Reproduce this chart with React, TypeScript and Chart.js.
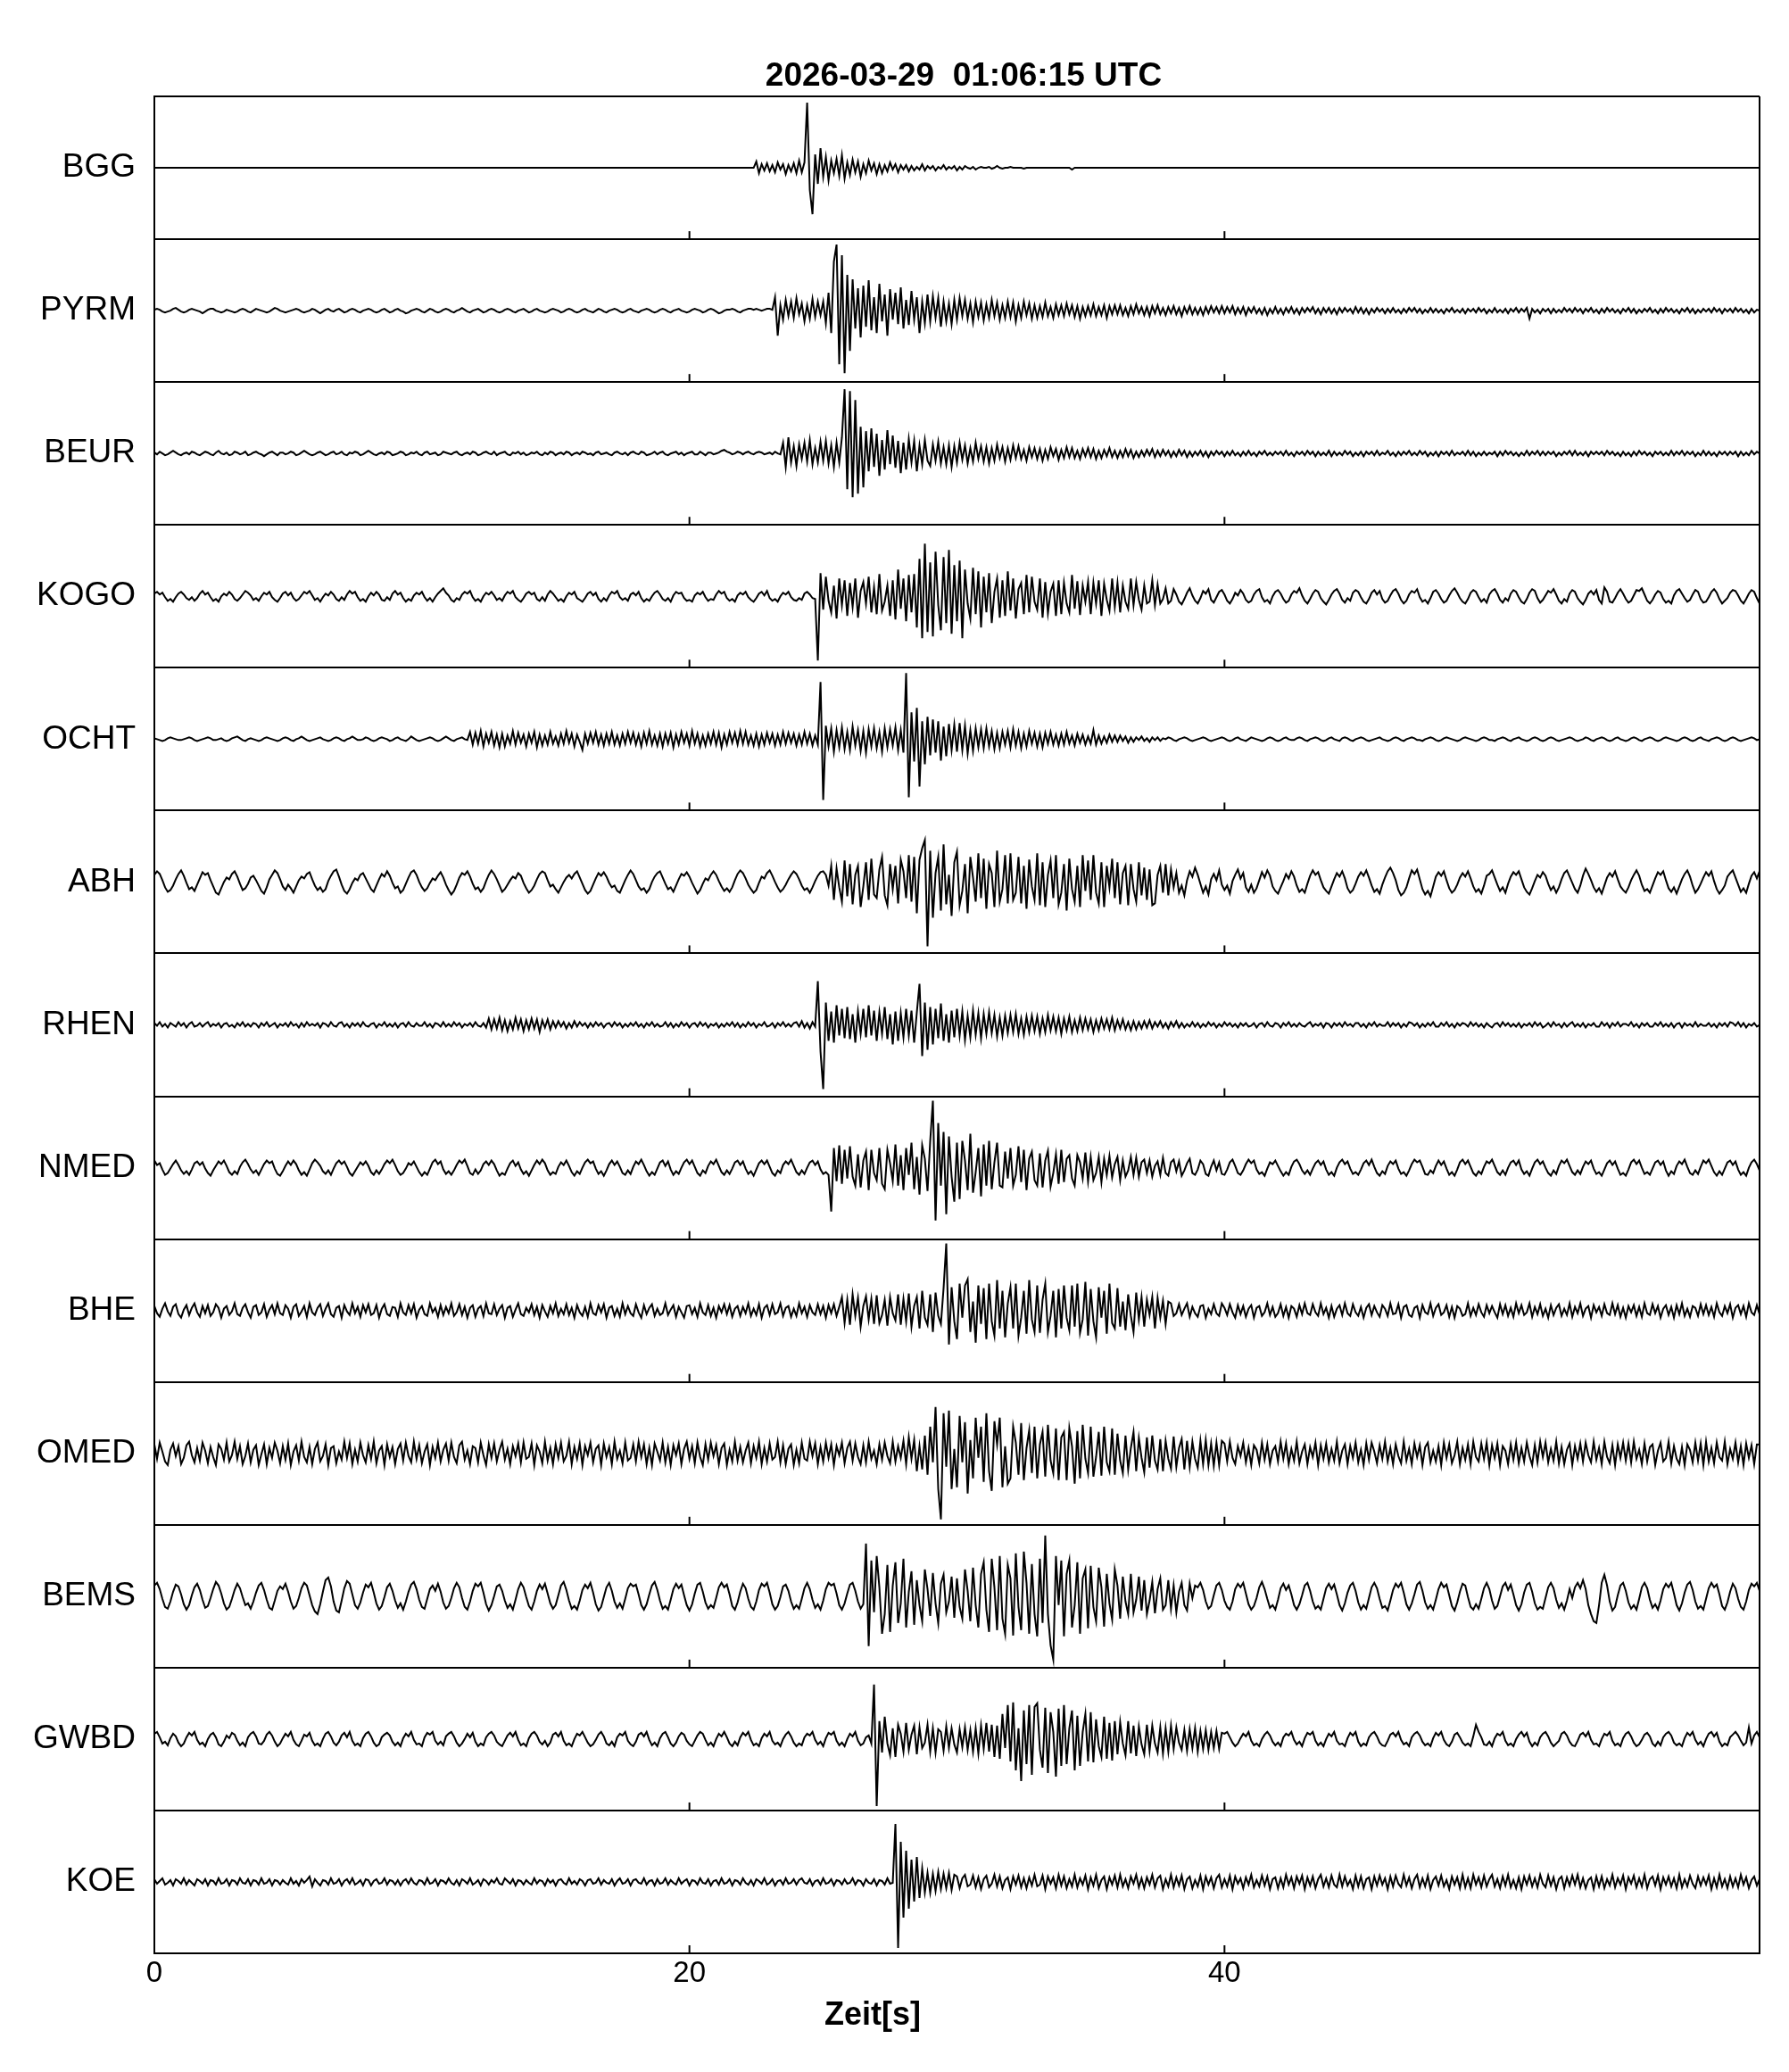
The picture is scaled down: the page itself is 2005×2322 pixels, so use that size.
import React, { useEffect, useRef } from 'react';
import { Chart, registerables } from 'chart.js';

Chart.register(...registerables);

const TITLE = '2026-03-29  01:06:15 UTC';
const X_LABEL = 'Zeit[s]';
const STATIONS = ['BGG', 'PYRM', 'BEUR', 'KOGO', 'OCHT', 'ABH', 'RHEN', 'NMED', 'BHE', 'OMED', 'BEMS', 'GWBD', 'KOE'];
const X_TICKS = [0, 20, 40, 60];
const DT = 0.1; // seconds between samples; each row below = 1 s; values = deflection (160 units = one panel)

const BGG = [
  0,0,0,0,0,0,0,0,0,0, 0,0,0,0,0,0,0,0,0,0, 0,0,0,0,0,0,0,0,0,0, 0,0,0,0,0,0,0,0,0,0,
  0,0,0,0,0,0,0,0,0,0, 0,0,0,0,0,0,0,0,0,0, 0,0,0,0,0,0,0,0,0,0, 0,0,0,0,0,0,0,0,0,0,
  0,0,0,0,0,0,0,0,0,0, 0,0,0,0,0,0,0,0,0,0, 0,0,0,0,0,0,0,0,0,0, 0,0,0,0,0,0,0,0,0,0,
  0,0,0,0,0,0,0,0,0,0, 0,0,0,0,0,0,0,0,0,0, 0,0,0,0,0,0,0,0,0,0, 0,0,0,0,0,0,0,0,0,0,
  0,0,0,0,0,0,0,0,0,0, 0,0,0,0,0,0,0,0,0,0, 0,0,0,0,0,0,0,0,0,0, 0,0,0,0,0,0,0,0,0,0,
  0,0,0,0,0,0,0,0,0,0, 0,0,0,0,0,0,0,0,0,0,
  0,0,0,0,0,7,-6,4,-3,5,
  -4,3,-5,6,-2,4,-7,3,-4,5,
  -6,8,-5,6,73,-25,-52,15,-18,22,
  -10,12,-14,8,-6,10,-9,14,-12,6,
  -8,9,-5,7,-10,4,-6,8,-3,5,
  -7,4,-6,3,-4,6,-2,4,-5,3,
  -2,3,-4,2,-3,1,-2,4,-3,2,
  -1,2,-3,1,-1,3,-2,1,-1,2,
  -3,1,-2,2,0,-1,1,-2,0,1,
  0,0,1,-1,0,2,0,-1,0,0,
  1,0,0,0,0,-1,0,0,0,0,
  0,0,0,0,0,0,0,0,0,0,
  0,0,0,-2,0,0,0,0,0,0,
  0,0,0,0,0,0,0,0,0,0, 0,0,0,0,0,0,0,0,0,0, 0,0,0,0,0,0,0,0,0,0, 0,0,0,0,0,0,0,0,0,0,
  0,0,0,0,0,0,0,0,0,0, 0,0,0,0,0,0,0,0,0,0, 0,0,0,0,0,0,0,0,0,0, 0,0,0,0,0,0,0,0,0,0,
  0,0,0,0,0,0,0,0,0,0, 0,0,0,0,0,0,0,0,0,0, 0,0,0,0,0,0,0,0,0,0, 0,0,0,0,0,0,0,0,0,0,
  0,0,0,0,0,0,0,0,0,0, 0,0,0,0,0,0,0,0,0,0, 0,0,0,0,0,0,0,0,0,0, 0,0,0,0,0,0,0,0,0,0,
  0,0,0,0,0,0,0,0,0,0, 0,0,0,0,0,0,0,0,0,0, 0,0,0,0,0,0,0,0,0,0, 0,0,0,0,0,0,0,0,0,0,
  0,0,0,0,0,0,0,0,0,0, 0,0,0,0,0,0,0,0,0,0, 0,0,0,0,0,0,0,0,0,0, 0,0,0,0,0,0,0,0,0,0,
  0,0,0,0,0,0,0,0,0,0,
  0,
];

const PYRM = [
  1,2,1,-1,-2,-1,0,2,3,1,
  -1,-2,-1,1,2,1,0,-1,-3,-1,
  1,2,2,0,-1,-2,-1,1,0,-1,
  -2,-1,1,2,1,-1,-2,0,2,1,
  0,-1,-2,-1,1,3,2,0,-1,-2,
  -1,0,1,2,1,-1,-2,-1,0,2,
  1,-1,-3,-1,1,2,0,-1,1,2,
  0,-2,-1,1,2,1,-1,-2,0,1,
  2,1,-1,-2,-1,1,2,0,-2,-1,
  1,2,0,-1,-3,-2,0,1,2,1,
  -1,-2,0,2,1,-1,-2,-1,1,2,
  1,-1,-2,0,1,3,1,-1,-2,0,
  1,2,0,-2,-1,1,2,1,-1,-2,
  -1,1,2,1,-1,-2,0,1,2,0,
  -2,-1,1,2,0,-1,-2,-1,1,2,
  1,0,-2,-1,1,2,1,-1,-2,-1,
  1,2,0,-1,-2,0,2,1,-1,-2,
  0,1,2,1,-1,-2,-1,1,2,0,
  -1,-2,0,1,2,1,-1,-2,-1,1,
  2,1,-1,-2,0,1,2,0,-1,-2,
  -1,1,2,1,0,-2,-1,1,2,1,
  -1,-3,-2,0,1,1,2,1,-1,-2,
  0,1,2,2,1,2,1,0,1,2,
  2,1,15,-28,6,-10,12,-6,10,-8,
  14,-4,8,-12,6,-9,13,-7,10,-5,
  10,-14,20,-25,55,74,-60,62,-70,40,
  -45,35,-20,25,-30,28,-18,34,-22,15,
  -25,30,-12,18,-28,24,-10,20,-15,26,
  -20,12,-16,22,-10,15,-25,10,-14,18,
  -12,16,-8,14,-18,10,-12,8,-15,12,
  -10,14,-6,12,-9,8,-13,10,-7,9,
  -11,7,-8,12,-6,9,-10,6,-8,10,
  -7,9,-12,6,-8,10,-5,8,-9,6,
  -8,5,-7,9,-6,4,-8,7,-5,6,
  -6,8,-4,6,-7,5,-9,4,-6,5,
  -5,7,-6,4,-5,6,-8,5,-4,6,
  -4,6,-5,3,-6,5,-4,7,-3,4,
  -5,4,-6,5,-3,6,-4,3,-5,4,
  -3,5,-4,3,-6,4,-3,5,-4,3,
  -4,3,-5,4,-3,5,-2,4,-3,5,
  -3,4,-2,5,-4,3,-3,4,-5,3,
  -2,4,-3,2,-4,3,-5,2,-3,4,
  -3,2,-4,3,-2,4,-3,2,-4,3,
  -2,3,-1,4,-3,2,-4,3,-2,3,
  -3,2,-4,3,-2,3,-1,2,-3,4,
  -2,3,-3,2,-4,2,-2,3,-1,2,
  -3,2,-2,3,-2,1,-3,2,-2,3,
  -1,3,-2,2,-3,1,-2,3,-2,2,
  -2,1,-3,2,-1,3,-2,1,-2,2,
  -3,2,-1,2,-2,3,-1,2,-3,1,
  -2,3,-2,1,-2,2,-3,2,-1,3,
  -2,2,-1,3,-9,2,-2,1,-3,2,
  -1,2,-3,2,-2,1,-2,3,-1,2,
  -2,3,-1,2,-3,2,-1,3,-2,1,
  -3,2,-2,3,-1,2,-2,1,-3,2,
  -1,3,-2,2,-3,1,-2,2,-1,3,
  -2,1,-3,2,-2,3,-1,2,-2,1,
  -3,2,-1,3,-2,2,-3,1,-2,2,
  -1,2,-2,3,-1,2,-3,2,-1,2,
  -2,3,-1,2,-2,1,-3,2,-2,1,
  0,
];

const BEUR = [
  1,-1,2,0,-2,-1,1,3,1,-1,
  -2,0,1,-1,2,1,-1,-2,0,2,
  1,-1,-2,1,3,0,-1,1,-2,-1,
  2,1,-1,0,2,-2,-1,1,2,0,
  -1,-3,-1,1,2,0,-2,1,1,-1,
  0,2,1,-2,-1,1,3,1,-1,-2,
  -1,1,2,0,-2,-1,1,2,-1,0,
  2,-1,-2,1,0,2,1,-2,-1,1,
  3,1,-1,-2,0,1,-1,2,1,-2,
  -1,0,2,1,-2,-1,1,0,2,-1,
  -2,1,2,-1,0,1,-2,-1,2,1,
  0,-1,1,2,-1,-2,0,1,-1,2,
  1,-2,-1,1,2,0,-1,2,-2,0,
  1,2,-1,-2,1,0,2,-1,1,-2,
  -1,1,0,2,-1,-2,1,-1,2,1,
  -2,0,1,-1,2,1,-2,0,1,-1,
  2,1,-1,0,-2,1,2,-1,0,1,
  -1,-2,1,2,0,-1,1,-2,1,2,
  0,-1,2,1,-2,-1,0,2,-1,1,
  2,-1,-2,0,1,2,-1,1,-2,0,
  1,2,-1,-1,2,0,-2,1,1,-1,
  0,1,3,4,2,1,-1,0,2,1,
  -1,1,2,0,-1,1,2,1,-1,0,
  1,-1,2,0,-1,12,-15,18,-10,8,
  -14,10,-6,12,-9,15,-12,6,-10,13,
  -8,14,-11,9,-15,12,-10,18,72,-40,
  70,-49,60,-45,30,-38,25,-20,28,-15,
  22,-25,15,-18,26,-12,20,-16,14,-22,
  12,-18,16,-10,14,-20,9,-12,15,-8,
  -14,10,-8,13,-11,7,-12,9,-15,8,
  -10,12,-7,9,-11,6,-9,12,-6,8,
  -9,7,-11,6,-8,10,-5,7,-9,6,
  -7,9,-5,8,-6,4,-8,7,-4,6,
  -6,5,-8,4,-6,7,-3,5,-7,4,
  -5,7,-4,6,-5,3,-6,5,-3,6,
  -4,5,-6,3,-5,4,-3,6,-4,3,
  -5,3,-4,5,-3,4,-5,2,-4,3,
  -3,4,-2,5,-4,3,-3,4,-2,3,
  -4,2,-3,4,-2,3,-4,2,-3,2,
  -2,3,-3,2,-4,2,-2,3,-1,2,
  -3,2,-2,3,-2,1,-3,2,-2,3,
  -2,1,-3,2,-1,3,-2,1,-2,2,
  -1,2,-2,3,-2,1,-3,2,-1,2,
  -2,3,-1,2,-3,2,-2,1,-2,3,
  -3,2,-2,1,-2,3,-1,2,-3,1,
  -2,2,-3,2,-1,2,-2,3,-2,1,
  -1,3,-2,1,-3,2,-2,2,-1,3,
  -2,1,-2,3,-1,2,-3,1,-2,2,
  -3,2,-1,2,-2,3,-2,1,-1,2,
  -2,3,-2,2,-3,1,-2,2,-2,1,
  -1,2,-3,2,-2,3,-1,2,-2,1,
  -3,1,-2,3,-2,2,-1,3,-2,2,
  -2,2,-1,2,-3,1,-2,2,-1,3,
  -2,3,-2,1,-2,2,-3,2,-1,2,
  -1,2,-2,3,-1,2,-2,1,-3,2,
  -2,1,-3,2,-2,3,-1,2,-2,1,
  -3,2,-1,2,-2,1,-2,3,-2,2,
  -1,3,-2,2,-1,2,-3,1,-2,3,
  -2,2,-2,1,-3,2,-1,2,-2,2,
  -1,2,-3,2,-2,1,-2,3,-1,2,
  0,
];

const KOGO = [
  3,5,2,4,-1,-5,-3,-6,-1,3,
  5,2,-2,-4,-1,-5,-2,3,6,2,
  4,-1,-5,-3,-6,0,3,1,5,2,
  -3,-5,-2,2,6,4,1,-4,-2,-5,
  0,4,2,5,-1,-4,-6,-2,3,5,
  1,4,-2,-5,-3,1,5,3,6,1,
  -4,-2,-6,-1,3,1,5,2,-3,-5,
  -1,-4,2,6,3,5,-1,-5,-3,-6,
  0,4,1,5,2,-4,-5,-1,-4,3,
  6,2,4,-2,-6,-3,-5,1,4,2,
  5,-1,-5,-2,-6,-1,3,6,9,4,
  1,-4,-6,-2,-4,2,5,3,6,-1,
  -5,-3,-6,0,4,2,5,1,-4,-2,
  -5,1,5,3,6,-1,-4,-6,-2,3,
  5,2,4,-3,-5,-1,-5,2,6,3,
  -1,-5,-3,-6,0,4,2,5,-2,-4,
  -6,-2,3,5,1,4,-3,-6,-2,-5,
  1,5,3,6,-1,-4,-2,-5,2,4,
  1,5,-2,-6,-3,-5,0,4,6,2,
  -3,-5,-2,-6,1,5,3,4,-2,-5,
  -4,-6,1,4,2,5,-1,-5,-3,-4,
  2,6,3,5,-2,-5,-3,-6,1,4,
  2,5,-1,-4,-6,-2,3,5,1,6,
  -2,-5,-3,-6,0,4,2,5,-1,-4,
  -5,-2,-4,3,5,2,-2,-3,-72,26,
  -15,22,-5,-18,12,-25,20,-10,18,-22,
  15,-12,20,-24,6,16,-8,22,-18,10,
  -20,25,-16,-6,12,-22,18,-26,30,-14,
  20,-28,24,-18,25,-35,42,-47,59,-40,
  38,-45,50,-10,-38,44,-30,52,-42,35,
  -28,40,-47,30,-8,-25,32,-20,28,-35,
  22,-18,26,-30,5,20,-24,18,-22,28,
  -16,20,-25,8,15,-20,24,-18,22,-6,
  -15,20,-24,16,-19,5,14,-22,18,-20,
  15,-8,-18,24,-14,17,-21,12,-6,16,
  -20,15,-8,18,-22,14,-4,-16,20,-12,
  15,-18,12,-6,-14,20,-10,16,-4,-15,
  12,-8,-6,18,-10,13,-8,-3,9,-8,
  -5,8,2,-6,-9,-3,4,9,1,-5,
  -8,-2,6,3,8,-4,-7,-1,5,7,
  2,-5,-8,-3,4,1,7,3,-4,-7,
  -5,2,6,8,-1,-6,-4,-8,0,5,
  7,3,-3,-7,-5,2,6,4,9,1,
  -5,-8,-3,3,7,5,-2,-6,-9,-4,
  2,6,8,3,-4,-7,-2,-5,4,7,
  5,-1,-6,-8,-3,4,7,2,6,-3,
  -7,-5,1,6,8,3,-4,-8,-5,2,
  6,4,8,-1,-6,-4,-8,-2,5,7,
  3,-3,-7,-5,1,6,9,4,-2,-6,
  -8,-3,4,7,5,-1,-6,-3,-7,2,
  6,8,3,-4,-7,-2,-5,3,7,5,
  -1,-6,-8,-3,4,8,6,-2,-7,-4,
  1,6,4,8,2,-5,-8,-3,-6,3,
  7,5,-2,-6,-9,-4,3,6,2,7,
  -4,-8,10,5,-6,-7,-2,4,8,3,
  -3,-7,-5,1,7,6,9,2,-5,-8,
  -4,2,6,4,-3,-7,-5,-8,1,6,
  8,3,-2,-6,-4,2,7,5,-3,-7,
  -6,-1,5,8,4,-3,-8,-5,-2,4,
  7,6,1,-5,-8,-3,3,7,5,-2,
  -8,
];

const OCHT = [
  1,0,-1,-2,-1,1,2,1,0,-1,
  -1,0,1,2,1,-1,-2,-1,0,1,
  2,1,-1,-1,0,1,-1,-2,-1,1,
  2,3,1,-1,-2,0,1,0,-1,-2,
  -1,1,2,1,0,-1,-2,-1,1,2,
  1,-1,-2,0,1,3,1,-1,-2,-1,
  0,1,2,0,-1,-2,-1,1,2,1,
  -1,-2,0,1,3,1,-1,-1,0,2,
  1,-1,-2,-1,1,2,1,0,-2,-1,
  1,2,0,-1,-2,0,3,1,-1,-2,
  -1,0,1,2,1,-1,-2,-1,1,3,
  1,-1,-2,0,1,2,0,-1,8,-6,
  7,-5,9,-8,6,-4,8,-7,5,-9,
  6,-8,4,-5,9,-6,7,-4,5,-8,
  6,-4,8,-9,5,-7,4,-6,8,-5,
  3,-7,6,-5,9,-4,6,-8,5,-3,
  -12,6,-5,7,-4,8,-6,5,-7,6,
  -5,8,-6,4,-7,6,-5,8,-4,7,
  -6,5,-8,7,-5,9,-6,4,-7,6,
  -8,6,-5,7,-9,5,-6,8,-4,6,
  -7,9,-5,6,-8,4,-7,6,-5,8,
  -6,7,-9,5,-6,8,-4,7,-6,9,
  -5,8,-6,4,-7,6,-8,5,-6,7,
  -4,6,-7,5,-6,8,-5,7,-4,6,
  -7,5,-6,8,-5,6,-7,4,-6,64,
  -68,15,-8,12,-14,10,-9,13,-11,8,
  -12,14,-7,10,-13,9,-15,11,-8,12,
  -10,8,-14,12,-9,11,-7,13,-12,10,
  -15,74,-65,30,-25,35,-53,20,-28,25,
  -18,22,-15,20,-24,14,-19,17,-12,16,
  -14,18,-12,15,-16,10,-13,12,-9,11,
  -10,12,-8,9,-11,7,-10,8,-6,9,
  -9,11,-7,8,-10,6,-8,9,-5,7,
  -8,6,-9,7,-5,8,-6,5,-7,6,
  -6,8,-5,4,-7,6,-4,5,-6,3,
  -5,10,-6,4,-5,3,-4,5,-3,4,
  -3,4,-2,3,-4,2,-3,2,-1,3,
  -2,1,-3,2,-1,2,-2,1,0,2,
  1,-1,-2,0,1,2,1,-1,-2,-1,
  0,1,2,1,-1,-2,-1,0,1,2,
  1,-1,-2,-1,1,2,0,-1,-2,0,
  2,1,0,-1,-2,-1,1,2,1,-1,
  -2,-1,1,2,0,-1,-1,1,2,1,
  -1,-2,0,1,2,1,-1,-2,-1,1,
  2,0,-1,-2,1,2,1,-1,-2,0,
  1,2,1,-1,-2,-1,0,1,2,0,
  -1,-2,-1,1,2,1,-1,-2,0,1,
  2,1,-1,-1,-2,0,1,2,1,-1,
  -2,-1,1,2,1,0,-1,-2,-1,1,
  2,1,0,-1,-2,-1,1,2,1,-1,
  -1,-2,0,1,2,1,-1,-2,0,1,
  2,0,-1,-2,-1,1,2,1,-1,-2,
  -1,1,2,1,-1,-2,-1,0,1,2,
  1,-1,-2,-1,0,2,1,-1,-2,0,
  1,2,1,-1,-2,-1,1,2,0,-1,
  -2,-1,1,2,1,-1,-2,0,1,2,
  1,-1,-2,-1,1,2,1,0,-1,-2,
  -1,1,2,1,-1,-2,-1,1,2,0,
  -1,-2,0,1,2,1,-1,-2,-1,1,
  2,1,-1,-2,-1,0,1,2,1,-1,
  0,
];

const ABH = [
  8,12,9,2,-6,-11,-9,-4,3,9,
  13,7,-1,-8,-6,-10,-3,4,11,8,
  10,2,-5,-12,-14,-7,0,5,3,9,
  12,6,-2,-9,-7,-2,5,7,2,-4,
  -10,-13,-6,3,8,13,10,3,-5,-9,
  -3,-7,-12,-5,2,6,4,9,11,3,
  -4,-9,-6,-11,-8,1,7,12,14,6,
  -3,-10,-13,-8,-1,4,2,8,10,4,
  -2,-8,-11,-4,3,9,6,12,7,-1,
  -7,-5,-12,-9,-2,5,11,13,8,0,
  -6,-10,-7,-1,4,2,7,11,5,-3,
  -9,-14,-10,-3,5,10,8,12,6,-2,
  -8,-6,-11,-7,1,8,13,9,3,-4,
  -11,-8,-3,2,6,4,10,7,-1,-7,
  -12,-9,-4,3,9,12,10,2,-5,-3,
  -8,-12,-6,0,5,8,4,9,12,5,
  -2,-9,-13,-10,-3,4,10,7,11,6,
  -1,-6,-4,-10,-12,-5,2,8,13,9,
  2,-5,-9,-7,-12,-8,0,6,10,12,
  5,-2,-8,-6,-11,-4,3,9,7,11,
  6,-1,-7,-13,-9,-2,4,2,8,12,
  8,1,-5,-10,-7,-11,-6,2,9,13,
  10,4,-3,-8,-12,-9,-1,6,4,10,
  13,7,0,-6,-11,-8,-3,3,8,12,
  9,3,-4,-9,-7,-12,-6,1,7,11,
  12,8,-4,18,-20,15,-6,-22,24,-16,
  20,-25,8,18,-28,-5,22,-20,26,-14,
  -18,14,28,-15,-26,20,-8,18,-24,25,
  12,-18,30,-22,28,-35,25,38,47,-72,
  35,-40,10,28,-32,42,-25,8,-38,22,
  34,-26,-10,20,-35,28,5,-22,32,-18,
  26,-30,20,10,-28,35,-22,-8,30,-24,
  32,-20,-12,28,-24,18,-30,25,-5,-20,
  32,-26,22,-28,8,24,-18,30,-25,-12,
  20,-32,26,-8,-22,18,-28,30,-10,24,
  -20,30,-12,-24,22,-28,18,-6,26,-18,
  22,-25,10,18,-26,20,-8,-22,22,-15,
  16,-20,14,-26,-24,8,18,-12,20,-15,
  14,-6,10,-12,-4,-15,2,12,6,16,
  8,-2,-12,-5,-14,3,9,2,13,-3,
  -9,-4,-13,1,8,14,4,10,-6,-11,
  -3,-12,-7,2,11,5,13,7,-5,-10,
  -13,-6,1,9,4,12,6,-4,-11,-8,
  -12,-2,7,13,8,11,2,-6,-10,-13,
  -5,3,10,6,12,4,-7,-12,-9,-2,
  6,11,7,13,5,-4,-11,-8,-13,-3,
  5,12,16,10,2,-9,-15,-12,-6,4,
  13,9,14,3,-8,-14,-10,-16,-5,6,
  11,7,12,2,-7,-12,-9,-3,5,10,
  6,12,4,-5,-11,-8,-13,-4,7,9,
  13,5,-3,-10,-6,-12,-2,6,11,8,
  12,3,-6,-11,-14,-7,1,8,5,11,
  7,-2,-9,-5,-12,-6,3,10,13,6,
  -1,-8,-12,-4,7,15,9,2,-6,-11,
  -7,-13,-4,5,10,6,12,3,-5,-9,
  -12,-6,2,8,13,7,-3,-10,-8,-12,
  -4,4,11,8,12,2,-7,-11,-6,-13,
  -5,3,9,13,6,-4,-12,-8,-2,5,
  11,7,12,1,-8,-13,-9,-4,6,10,
  13,5,-3,-11,-7,-12,-2,7,11,4,
  12,
];

const RHEN = [
  2,-1,3,-2,1,-3,2,0,-2,3,
  -1,2,-3,1,3,-2,-1,2,-2,1,
  3,-2,1,-1,2,-3,1,2,-2,0,
  -3,2,-1,3,-2,1,-2,2,1,-3,
  2,-1,3,-2,0,2,-3,1,-1,2,
  -2,3,-1,1,-3,2,-2,3,-1,1,
  -1,2,-3,2,1,-2,3,-1,-2,2,
  3,-2,1,-3,2,-1,2,-2,3,-1,
  -2,1,2,-3,1,-1,3,-2,1,-2,
  2,-3,1,2,-2,3,-1,-2,2,-1,
  -1,3,-2,1,-3,2,1,-2,3,-2,
  1,-2,3,-1,2,-3,1,-1,2,-2,
  3,-1,-2,2,-3,7,-5,6,-4,8,
  -6,5,-7,4,-5,8,-4,6,-7,5,
  -5,7,-4,6,-8,5,-3,6,-5,4,
  -3,4,-2,3,-4,2,-3,4,-2,3,
  -1,2,-3,2,-2,3,-1,2,-3,1,
  2,-2,3,-1,2,-3,1,-2,2,-1,
  3,-2,1,-3,2,-1,3,-2,1,-2,
  -1,3,-2,2,-3,1,-2,3,-1,2,
  -3,1,2,-2,3,-1,2,-3,1,-1,
  2,-3,1,-2,2,-1,3,-2,2,-3,
  1,-2,3,-1,2,-3,1,-1,3,-2,
  -1,2,-3,2,-1,3,-2,1,-2,2,
  3,-2,4,-3,2,-4,3,-2,49,-30,
  -72,25,-18,15,-20,22,-12,18,-15,20,
  -16,12,-20,15,-10,18,-14,22,-12,16,
  -18,14,-10,20,-16,12,-22,15,-18,13,
  -14,18,-12,16,-20,14,46,-35,25,-28,
  20,-22,18,-15,24,-18,12,-20,16,-14,
  18,-12,15,-17,10,-14,16,-11,13,-15,
  12,-10,14,-9,11,-13,8,-12,10,-9,
  11,-8,12,-10,7,-11,9,-8,10,-7,
  9,-10,7,-8,11,-6,9,-7,8,-10,
  7,-6,9,-8,5,-7,8,-6,7,-5,
  6,-8,5,-6,7,-4,6,-5,8,-6,
  5,-4,6,-5,3,-6,4,-5,3,-4,
  4,-3,5,-4,3,-2,4,-3,2,-4,
  3,-2,4,-3,2,-3,1,-2,3,-2,
  2,-3,1,-2,3,-1,2,-3,1,-2,
  3,-1,2,-2,1,-3,2,-1,2,-2,
  -1,2,-3,1,2,-2,3,-1,-2,2,
  1,-3,2,-1,3,-2,1,-2,2,-1,
  -2,1,3,-2,1,-1,2,-3,2,1,
  -3,2,-1,2,-2,3,-1,1,-2,2,
  2,-2,1,-3,2,-1,3,-2,1,-1,
  -1,3,-2,2,-1,2,-3,1,-2,3,
  2,-1,2,-3,1,-2,2,-1,3,-2,
  -2,2,-1,3,-2,1,-3,2,-1,2,
  1,-2,3,-1,2,-2,1,-3,2,-1,
  -3,1,2,-2,3,-1,2,-2,1,-2,
  2,-3,1,-1,2,-2,3,-1,2,-3,
  -1,2,-2,3,-1,1,-3,2,-2,1,
  3,-2,1,-2,2,-3,1,-1,2,-2,
  -2,3,-1,2,-3,2,-1,3,-2,1,
  1,-1,3,-2,1,-3,2,-1,2,-2,
  -2,2,-1,3,-2,1,-2,2,-3,1,
  2,-3,2,-1,1,-2,3,-2,1,-1,
  -1,2,-2,1,-3,2,-1,2,-2,3,
  2,-1,3,-2,2,-3,1,-1,2,-2,
  0,
];

const NMED = [
  8,3,5,-2,-8,-6,-1,4,8,3,
  -3,-7,-4,-8,-2,5,7,3,6,-1,
  -6,-9,-3,2,7,4,8,2,-5,-8,
  -4,-7,1,6,9,4,-2,-6,-3,-8,
  -2,4,8,5,7,-1,-7,-9,-4,2,
  7,3,8,4,-3,-8,-5,-9,-2,5,
  9,6,2,-4,-7,-3,-8,-1,5,8,
  4,7,1,-6,-9,-4,1,6,3,7,
  2,-5,-8,-3,-7,-2,4,8,5,9,
  3,-4,-8,-6,-1,5,3,7,1,-5,
  -9,-5,-8,-1,6,9,4,7,-2,-7,
  -4,-8,-3,3,8,5,9,2,-6,-8,
  -2,-7,-3,4,7,3,8,4,-3,-9,
  -6,-8,-1,5,8,2,6,-2,-7,-4,
  -9,-3,3,8,4,9,5,-3,-8,-5,
  -7,1,6,3,8,2,-5,-9,-4,-7,
  0,6,9,5,7,-1,-7,-4,-9,-3,
  4,8,3,7,1,-6,-8,-3,-7,1,
  7,4,9,3,-4,-9,-5,-8,-1,6,
  8,2,7,-2,-8,-4,-7,0,6,9,
  4,8,1,-6,-9,-3,-6,2,7,4,
  9,2,-5,-8,-3,-7,-1,6,8,3,
  7,-1,-7,-4,-9,-2,5,8,4,8,
  1,-6,-9,-3,-6,3,7,4,9,2,
  -5,-8,-3,-7,0,6,8,3,7,-2,
  -7,-5,-8,-49,22,-15,25,-18,20,-12,
  24,-10,-20,15,-22,8,18,-25,20,-6,
  -14,22,-18,-24,20,5,-15,26,-20,14,
  -25,22,-8,28,-24,12,-30,25,10,-26,
  30,75,-59,50,-20,40,-52,35,-10,-38,
  28,-35,30,8,-25,38,-28,-5,22,-32,
  26,-20,30,-24,6,28,-20,-22,18,-12,
  22,-20,-8,24,-16,20,-25,10,18,-14,
  -20,16,-22,8,19,-21,-6,15,-18,20,
  -16,10,14,-12,-20,14,6,-12,17,-15,
  12,-14,-6,12,-16,10,-8,13,-11,4,
  12,-14,8,-10,-3,12,-8,11,-10,6,
  9,-6,8,-10,2,7,-8,11,-6,-9,
  6,9,-4,7,-9,-3,5,10,-6,-8,
  -2,8,4,-7,-9,1,8,-3,6,-7,
  -8,-2,6,9,2,-6,-8,-3,4,9,
  5,8,-2,-7,-5,-9,-1,6,4,8,
  2,-4,-9,-5,-8,1,7,9,4,-3,
  -7,-3,-8,-1,5,8,3,7,-2,-8,
  -5,-9,0,6,9,4,7,-1,-7,-5,
  -8,-2,5,8,3,9,1,-6,-9,-4,
  -7,2,7,4,8,-1,-7,-5,-9,-3,
  4,9,6,8,1,-7,-8,-3,-6,2,
  8,3,7,-1,-8,-5,-9,-2,6,9,
  4,8,1,-6,-9,-4,-7,1,7,5,
  9,2,-5,-8,-3,-8,0,6,8,3,
  8,-2,-7,-4,-9,-1,6,9,4,7,
  0,-6,-9,-3,-7,2,8,5,9,2,
  -5,-8,-3,-7,1,7,4,8,-1,-7,
  -5,-9,-2,5,8,3,7,-1,-8,-6,
  -9,-2,6,9,4,8,0,-7,-5,-8,
  -1,6,8,3,7,-3,-9,-4,-7,2,
  7,4,9,1,-6,-8,-3,-7,1,8,
  5,9,2,-5,-9,-4,-8,-1,6,8,
  3,7,-2,-8,-5,-9,0,6,9,4,
  -3,
];

const BHE = [
  5,-3,-7,2,8,-1,-6,4,7,-4,
  -8,1,6,-5,3,8,-2,-7,5,-3,
  6,-6,-2,7,3,-8,2,5,-5,-1,
  8,-4,-6,3,7,-2,-8,4,6,-5,
  -2,7,-7,1,6,-4,8,-3,-5,6,
  2,-8,4,7,-6,-1,5,-7,8,-2,
  -5,3,7,-6,2,8,-4,-7,3,5,
  -8,6,-1,-5,8,-3,4,-7,6,-2,
  7,-5,-3,6,-8,2,7,-4,-6,4,
  3,-7,8,-2,-5,6,-3,7,-8,1,
  5,-4,-6,8,-2,3,-7,6,-5,4,
  -3,8,-6,-2,7,-5,4,-8,3,6,
  -7,2,5,-6,8,-3,-4,7,-5,2,
  6,-8,3,5,-7,1,8,-4,-6,3,
  -2,7,-5,4,-8,6,-1,-7,5,-3,
  8,-6,2,-4,7,-5,3,-8,6,-2,
  -6,4,-7,8,-3,-5,6,-2,7,-8,
  3,5,-6,2,-7,8,-4,5,-3,-6,
  7,-2,-8,6,-4,3,7,-6,2,-5,
  -3,8,-5,1,6,-7,4,-2,-8,5,
  6,-4,3,-7,8,-2,-5,6,-6,3,
  -8,5,-2,7,-4,6,-7,2,5,-6,
  4,-3,8,-6,2,-5,7,-8,3,6,
  -5,7,-4,-2,8,-6,3,5,-7,2,
  -6,8,-3,4,-7,6,-2,-5,7,-4,
  5,-8,6,-3,7,-6,4,15,-14,12,
  -16,18,-6,14,-18,5,16,-10,13,-15,
  17,-14,-5,12,-17,15,-3,-11,18,-16,
  13,-12,19,-18,5,15,-20,22,-8,-16,
  18,-24,20,-6,-15,25,75,-38,26,-12,
  -32,30,-8,28,35,-24,10,-36,28,-15,
  25,-32,30,-12,-28,34,-20,22,-30,8,
  26,-20,30,-28,-8,22,-26,34,-10,-24,
  28,-25,12,30,-24,-6,22,-30,24,-20,
  28,-8,-22,28,-18,30,-25,-10,32,-28,
  24,-12,-30,26,-8,22,-26,30,-14,-20,
  25,-18,10,-22,18,-6,-24,20,-10,15,
  -18,12,-5,15,-20,14,-8,11,-15,10,
  8,-6,-3,7,-5,2,8,-7,4,-3,
  -7,5,6,-8,2,-4,7,-3,-6,8,
  3,-5,7,-2,-8,6,-4,5,-7,2,
  6,-8,3,5,-6,-2,8,-5,4,-7,
  -3,7,-6,4,-8,5,2,-7,6,-4,
  8,-3,-5,7,-2,-6,8,-4,3,-8,
  5,-7,2,6,-5,8,-3,-6,7,-2,
  -6,4,-8,3,7,-5,5,-2,-7,6,
  2,-6,8,-4,-3,7,-8,4,6,-5,
  -7,3,5,-8,6,-2,-4,8,-6,3,
  7,-5,-2,6,-7,4,-8,5,2,-6,
  -4,8,-6,3,-5,7,-2,-7,6,-3,
  5,-2,-8,7,-4,6,-6,3,-7,8,
  -3,6,-5,-2,8,-7,4,-4,7,-6,
  2,-8,6,-5,3,7,-6,2,-5,8,
  -7,4,-3,8,-6,2,5,-8,6,-2,
  4,-6,7,-3,-5,8,-4,6,-7,3,
  -8,5,-2,6,-6,4,-7,8,-3,-5,
  7,-3,5,-8,2,6,-5,4,-8,6,
  -4,8,-6,2,-7,5,3,-6,7,-4,
  6,-5,4,-7,8,-2,-6,5,-3,7,
  -8,3,6,-4,5,-7,8,-2,-5,6,
  -4,
];

const OMED = [
  10,-6,12,2,-9,-13,4,11,-3,8,
  -12,-5,9,13,-2,-10,6,-8,12,3,
  -11,7,-4,-13,10,5,-7,12,-9,-2,
  13,-6,8,-12,-3,11,-10,4,9,-13,
  -1,10,-12,6,-5,12,3,-11,8,-7,
  11,-13,2,9,-8,13,-4,-10,7,-12,
  5,12,-9,-3,10,-13,6,8,-11,2,
  -7,13,-5,11,-12,4,-9,12,-2,-10,
  9,-6,13,-11,3,8,-13,10,-4,7,
  -12,5,11,-8,12,-3,-10,13,-6,9,
  -11,2,10,-13,7,-5,12,-9,4,11,
  -8,12,-4,-11,9,13,-7,3,-12,8,
  6,-10,12,-2,-13,10,-5,11,-9,4,
  13,-7,5,-12,8,-3,11,-10,12,-6,
  -4,11,-13,9,2,-11,13,-8,6,-12,
  10,-5,12,-9,-3,13,-12,7,-6,11,
  -13,8,-2,12,-10,5,9,-13,11,-4,
  7,-12,13,-6,3,-11,12,-8,-5,10,
  -9,13,-4,10,-12,6,-13,11,2,-8,
  12,-10,7,-13,9,-2,11,-12,5,13,
  -6,8,-11,12,-4,-13,10,-7,12,-3,
  9,-12,6,11,-13,4,-9,13,-8,7,
  -10,3,12,-11,8,-5,13,-12,6,-9,
  11,-7,-4,13,-10,9,-12,5,10,-13,
  4,-11,12,-6,-8,13,-3,11,-12,7,
  -9,12,-5,10,-13,8,-2,12,-11,6,
  13,-8,11,-4,-12,9,-10,13,-6,3,
  -12,10,-7,12,-3,-11,13,-9,8,-5,
  14,-12,18,-6,15,-20,8,-18,20,-24,
  30,-10,52,-40,-74,45,-15,48,-40,5,
  -38,42,-10,35,-45,15,-28,40,-5,30,
  -32,45,-20,-42,36,10,40,-38,8,-34,
  -28,30,12,-24,34,-30,6,26,-22,30,
  -28,10,24,-26,32,-8,-22,28,-30,18,
  24,-30,28,8,-34,25,-28,32,-6,-22,
  30,-26,-4,24,-25,30,-10,-20,28,-24,
  22,-8,-22,20,-18,6,24,-20,17,-5,
  -21,18,-16,20,-8,-18,16,-20,14,-6,
  -17,19,-15,6,16,-18,14,-15,13,-6,
  -16,14,-12,15,-13,11,-14,12,-13,14,
  11,-9,13,-5,-12,8,-3,12,-10,6,
  -13,9,4,-11,12,-7,10,-12,3,8,
  -9,13,-6,11,-12,5,-8,13,-11,2,
  10,-12,7,-4,12,-13,9,-6,11,-10,
  5,-8,13,-11,3,10,-12,8,-5,12,
  -10,4,-13,11,-7,12,2,-11,9,-6,
  13,-9,6,-12,10,-3,-11,13,-8,5,
  -12,11,-4,9,-13,7,12,-10,3,-9,
  8,-13,12,-5,10,-11,-2,13,-12,6,
  -7,10,-12,13,-4,-9,11,-6,12,-13,
  9,-5,11,-13,8,3,-12,10,-7,12,
  -11,6,-9,12,-3,-13,9,-10,13,-4,
  12,-10,5,-8,13,-11,7,-12,4,11,
  -13,8,-6,11,-9,12,-2,-10,13,-7,
  6,-12,13,-4,-11,9,-13,10,-5,12,
  -8,11,-10,13,-6,4,-12,11,-9,7,
  10,-13,3,12,-9,-5,13,-11,8,-6,
  -12,7,-13,10,4,-10,12,-8,11,-13,
  13,-9,6,-11,12,-4,-8,13,-12,5,
  -6,12,-10,8,-13,11,-5,9,-12,10,
  10,
];

const BEMS = [
  12,15,8,-3,-12,-14,-6,5,13,11,
  2,-9,-15,-10,1,10,14,7,-4,-13,
  -11,-2,8,16,12,3,-8,-15,-12,-3,
  7,14,9,-1,-10,-8,-14,-6,4,12,
  15,7,-4,-13,-15,-5,6,11,8,14,
  5,-6,-14,-11,-2,9,15,12,1,-10,
  -17,-20,-9,5,18,21,11,-6,-16,-18,
  -5,9,17,14,2,-10,-14,-7,4,13,
  10,15,4,-8,-15,-11,-1,10,14,6,
  -5,-13,-8,-15,-6,5,13,16,8,-4,
  -12,-14,-3,8,12,6,14,5,-7,-14,
  -11,-2,9,15,10,-2,-12,-15,-6,6,
  14,11,15,4,-9,-16,-10,0,11,13,
  6,-5,-13,-9,-15,-4,8,15,10,-1,
  -11,-15,-6,6,13,8,14,3,-8,-14,
  -10,1,12,16,7,-5,-14,-11,-15,-5,
  7,13,9,15,4,-9,-16,-12,-1,10,
  15,6,-6,-13,-8,-14,-3,9,14,11,
  13,2,-10,-15,-9,2,12,16,7,-5,
  -14,-11,-15,-4,8,14,9,13,1,-10,
  -16,-9,3,13,15,5,-7,-14,-10,-13,
  -2,10,15,10,13,2,-11,-15,-7,5,
  14,9,-3,-12,-15,-6,7,14,11,15,
  4,-9,-15,-11,-1,11,13,6,-6,-14,
  -10,-14,-3,9,15,8,-4,-13,-9,-15,
  -5,8,15,12,14,3,-10,-15,-8,3,
  13,15,6,-6,-14,-9,59,-56,40,-18,
  45,10,-42,-20,35,-40,12,38,-30,-8,
  42,-35,5,28,-32,18,-10,-28,30,8,
  -22,26,-8,-30,14,24,-18,-6,22,-24,
  20,-12,-25,30,6,-28,32,-10,-35,25,
  38,-15,-40,42,10,-38,45,-25,-42,35,
  20,-44,48,-12,-38,50,15,-42,36,-20,
  -45,42,-30,68,-20,-55,-71,45,-10,40,
  -45,25,40,-35,-10,38,-42,20,30,-36,
  34,-12,-28,32,10,-34,25,-8,-26,30,
  12,-25,22,-6,-20,25,-18,-4,22,-16,
  18,-20,-5,16,-19,8,20,-15,-10,18,
  -14,12,-18,5,15,-10,-16,14,-2,12,
  10,15,7,-6,-14,-11,1,12,15,7,
  -5,-12,-15,-6,8,14,10,15,3,-9,
  -15,-11,-2,10,16,8,-3,-13,-10,-15,
  -4,9,14,7,12,2,-10,-15,-9,1,
  12,15,6,-6,-14,-11,-15,-3,9,14,
  8,13,2,-10,-16,-8,4,12,15,6,
  -7,-15,-10,-14,-2,10,15,9,-3,-13,
  -11,-16,-5,7,14,10,15,4,-9,-15,
  -8,2,13,16,6,-7,-14,-10,-15,-4,
  8,15,10,13,1,-11,-16,-7,5,14,
  12,-1,-12,-15,-9,-14,-3,9,15,8,
  -5,-14,-11,0,11,15,7,13,2,-10,
  -16,-9,4,13,15,5,-8,-15,-12,-14,
  -2,10,15,9,-4,-13,-8,-15,-5,8,
  -2,10,15,9,18,8,-10,-20,-28,-30,
  -10,15,24,12,-6,-16,-12,1,12,15,
  6,-7,-14,-10,-15,-3,10,15,9,-4,
  -13,-9,-15,-5,8,14,10,15,3,-10,
  -16,-8,4,13,16,7,-6,-14,-11,-15,
  -3,9,15,10,13,2,-11,-15,-7,5,
  14,9,-3,-12,-15,-6,7,14,11,15,
  6,
];

const GWBD = [
  6,8,2,-5,-3,-7,1,6,3,-4,
  -8,-5,2,7,4,8,-1,-6,-4,-8,
  0,5,7,2,-6,-8,-3,4,1,7,
  5,-2,-7,-4,-8,2,6,8,3,-5,
  -6,-2,5,8,4,-3,-8,-5,1,6,
  3,8,-1,-6,-8,-2,5,3,7,-2,
  -7,-5,-8,0,6,8,3,-4,-7,-3,
  4,7,2,8,-2,-7,-5,-8,1,6,
  8,3,-4,-8,-6,2,5,7,4,-3,
  -7,-4,-8,1,6,3,8,-1,-6,-5,
  -8,2,7,5,8,-2,-6,-3,-7,3,
  6,8,3,-4,-8,-5,0,6,2,7,
  -3,-8,-5,-7,2,6,8,4,-3,-6,
  -8,-2,4,7,3,8,-1,-7,-5,-8,
  1,6,8,4,-3,-6,-2,-8,-4,5,
  7,3,8,-2,-7,-5,-8,0,6,4,
  8,2,-4,-8,-6,-1,5,8,3,-5,
  -7,-3,-8,2,6,4,8,-2,-6,-8,
  -3,5,7,3,8,-1,-7,-4,-8,1,
  6,8,2,-5,-8,-4,3,7,5,-2,
  -6,-8,-2,4,8,6,-1,-7,-4,-8,
  0,6,3,8,2,-5,-8,-3,-7,2,
  7,4,8,-1,-7,-5,-8,1,6,3,
  8,-2,-6,-4,-8,0,5,8,3,-4,
  -8,-5,-7,2,6,4,8,-1,-6,-3,
  -8,1,7,5,8,-2,-7,-4,-8,0,
  6,3,8,-2,-7,-5,2,4,-5,61,
  -75,20,-15,25,-5,-18,12,-20,16,6,
  -14,18,-12,5,15,-17,13,-10,-4,16,
  -14,12,-15,11,8,-13,14,-10,12,-6,
  -15,11,-9,13,-12,10,-14,12,-16,15,
  -11,18,-14,16,-20,15,-22,28,-10,38,
  -25,41,-35,12,-47,32,-28,38,-40,36,
  40,-12,-32,35,-38,30,8,-42,34,-30,
  38,-28,12,32,-35,26,-30,8,28,-25,
  30,-26,22,-8,-20,25,-22,18,-24,20,
  -17,19,-5,-18,20,-16,15,-19,14,-6,
  -17,16,-13,15,-5,-15,13,-16,12,-14,
  15,-11,13,-4,-12,10,-13,11,-10,12,
  -14,9,-11,10,-12,8,-10,9,-11,7,
  6,8,2,-4,-8,-5,1,6,3,8,
  -2,-7,-5,-8,0,5,8,4,-3,-7,
  -4,-8,2,6,4,8,-1,-6,-3,-8,
  1,7,5,8,-2,-7,-4,-8,0,6,
  3,8,-2,-6,-5,-8,1,7,4,8,
  -3,-8,-5,-7,2,6,8,3,-4,-7,
  -8,-2,5,7,3,8,-1,-6,-4,-8,
  2,6,8,4,-3,-7,-5,-8,1,7,
  4,8,-1,-6,-8,-3,5,7,2,-4,
  -7,-5,-8,3,16,8,2,-6,-7,-3,
  -8,1,6,4,8,-2,-7,-5,-8,0,
  5,8,3,7,-3,-8,-4,-7,2,6,
  8,3,-4,-8,-5,-2,6,8,4,-3,
  -7,-8,-2,5,7,3,8,-1,-6,-5,
  -8,0,6,4,8,-2,-7,-5,-8,1,
  6,8,3,-4,-8,-6,-1,5,7,3,
  -5,-8,-3,-7,2,6,8,4,-4,-7,
  -5,-8,1,7,4,8,-1,-6,-3,-8,
  0,6,8,3,7,-3,-8,-5,-7,2,
  5,8,4,-2,-7,-4,13,-5,4,8,
  2,
];

const KOE = [
  3,-2,1,4,-3,-1,2,-4,3,1,
  -2,4,-3,2,-1,-4,3,1,-2,3,
  -4,2,1,-3,4,-2,-1,3,-4,2,
  1,-3,4,-1,-2,3,-4,2,1,-3,
  4,-2,-1,3,-4,2,1,-3,2,-1,
  -3,4,-2,1,-4,3,-1,2,6,-5,
  3,-1,-4,2,1,-3,4,-2,-1,3,
  -4,1,3,-2,4,-3,-1,2,-4,3,
  2,-4,1,3,-2,-1,4,-3,2,1,
  -3,2,-4,1,3,-2,4,-1,-3,2,
  1,-3,4,-2,-1,3,-4,2,1,-2,
  4,-1,-3,2,-4,3,1,-2,4,-3,
  -1,2,-4,3,1,-3,2,-1,4,-2,
  -3,4,1,-2,3,-4,2,1,-3,2,
  -1,-3,4,-2,2,1,-4,3,-1,2,
  -4,2,3,-1,-3,4,-2,1,-3,3,
  1,-4,2,3,-2,-1,4,-3,2,-1,
  -2,3,-4,1,4,-2,-1,3,-4,2,
  3,-1,-2,4,-3,1,2,-4,3,-2,
  -1,4,-3,2,-1,-3,4,-2,1,3,
  -4,2,1,-3,4,-1,-2,3,-4,1,
  2,-3,4,-2,-1,3,-4,2,1,-3,
  4,-1,-3,2,-4,3,1,-2,4,-3,
  -1,3,-4,1,2,-3,4,-2,-1,3,
  -3,2,4,-1,-2,3,-4,1,2,-3,
  4,-2,-1,3,-4,2,1,-3,3,-2,
  -1,4,-3,2,1,-4,3,-1,-2,3,
  -4,2,1,-3,4,-2,-1,65,-74,45,
  -40,35,-30,25,-22,28,-18,15,-12,10,
  -12,9,-10,11,-8,9,-7,10,-9,8,
  6,-7,4,8,-5,-3,7,-6,5,-8,
  3,7,-6,-2,8,-5,6,-7,2,5,
  -8,6,-3,7,-6,4,-7,5,-4,8,
  -5,-3,7,-8,6,-2,5,-7,8,-4,
  6,-7,3,-5,8,-6,4,-3,7,-8,
  5,-4,8,-7,2,6,-8,5,-3,7,
  -6,8,-5,3,-7,6,-2,8,-6,4,
  -7,5,-3,8,-6,4,7,-8,3,-5,
  8,-6,5,-4,7,-8,3,6,-7,2,
  -5,7,-8,6,-3,5,-7,4,8,-6,
  3,-5,7,-8,6,-2,4,-7,5,-3,
  8,-6,2,-5,7,-4,6,-8,3,5,
  -7,4,-6,8,-3,5,-7,6,-2,7,
  -8,5,-4,6,-7,3,8,-5,4,-6,
  7,-3,-6,8,-5,6,-4,2,-8,7,
  -5,6,-7,3,5,-8,6,-4,7,-3,
  4,-8,6,-5,7,-2,-6,8,-4,5,
  -7,3,8,-6,4,-5,7,-8,2,6,
  -4,7,-5,2,-8,6,-3,5,-7,8,
  -6,4,-7,8,-3,5,-6,7,-5,3,
  8,-5,3,-7,6,-4,8,-6,2,-7,
  5,-8,6,-3,7,-5,4,-6,8,-2,
  -6,7,-4,5,-8,3,6,-7,5,-4,
  7,-3,8,-6,4,-7,2,5,-8,6,
  -5,6,-7,3,-4,8,-6,4,-3,7,
  -8,5,-2,7,-6,4,-5,8,-7,3,
  6,-4,7,-8,5,-3,6,-5,4,-7,
  8,-6,3,-5,7,-2,-7,6,-4,5,
  -3,7,-8,4,-6,8,-5,3,-7,6,
  -5,4,-6,8,-3,5,-7,2,6,-4,
  3,
];

const TRACES = [BGG, PYRM, BEUR, KOGO, OCHT, ABH, RHEN, NMED, BHE, OMED, BEMS, GWBD, KOE];

const W = 2005;
const H = 2322;
const PANEL_UNITS = 160;
const FONT = '"Liberation Sans", Arial, Helvetica, sans-serif';

export default function App() {
  const ref = useRef<HTMLCanvasElement>(null);

  useEffect(() => {
    if (!ref.current) return;
    const n = STATIONS.length;
    const datasets = TRACES.map((arr, k) => ({
      label: STATIONS[k],
      data: arr.map((v, i) => ({ x: Math.round(i * DT * 100) / 100, y: n - k - 0.5 + v / PANEL_UNITS })),
      borderColor: '#000',
      borderWidth: 2,
      pointRadius: 0,
      tension: 0,
      fill: false,
    }));

    const framePlugin = {
      id: 'frameDecor',
      afterDraw(chart: any) {
        const { ctx, scales } = chart;
        const xs = scales.x;
        const ys = scales.y;
        ctx.save();
        ctx.strokeStyle = '#000';
        ctx.lineWidth = 2;
        for (let b = 0; b < n; b++) {
          const py = ys.getPixelForValue(b);
          for (const t of [20, 40]) {
            const px = xs.getPixelForValue(t);
            ctx.beginPath();
            ctx.moveTo(px, py);
            ctx.lineTo(px, py - 9);
            ctx.stroke();
          }
        }
        ctx.fillStyle = '#000';
        ctx.textAlign = 'center';
        ctx.textBaseline = 'alphabetic';
        ctx.font = `bold 37px ${FONT}`;
        ctx.fillText(TITLE, 1080, 96);
        ctx.font = `bold 36px ${FONT}`;
        ctx.fillText(X_LABEL, 978, 2269);
        ctx.restore();
      },
    };

    const chart = new Chart(ref.current, {
      type: 'line',
      data: { datasets },
      options: {
        responsive: false,
        animation: false,
        devicePixelRatio: 1,
        events: [],
        layout: { padding: { top: 108, right: 33, bottom: 0, left: 0 } },
        plugins: { legend: { display: false }, tooltip: { enabled: false }, title: { display: false } },
        scales: {
          x: {
            type: 'linear',
            min: 0,
            max: 60,
            afterBuildTicks: (s: any) => { s.ticks = X_TICKS.map((v) => ({ value: v })); },
            afterFit: (s: any) => { s.height = 133; },
            ticks: {
              autoSkip: false,
              maxRotation: 0,
              padding: 3,
              color: '#000',
              font: { family: FONT, size: 33 },
              callback: (v: any) => (Number(v) === 60 ? '' : String(v)),
            },
            grid: {
              color: (c: any) => (c.tick && c.tick.value === 60 ? '#000' : 'rgba(0,0,0,0)'),
              lineWidth: 2,
              drawTicks: false,
            },
            border: { display: true, color: '#000', width: 2 },
          },
          y: {
            type: 'linear',
            min: 0,
            max: n,
            afterBuildTicks: (s: any) => {
              s.ticks = Array.from({ length: 2 * n + 1 }, (_, i) => ({ value: i / 2 }));
            },
            afterFit: (s: any) => { s.width = 173; },
            ticks: {
              autoSkip: false,
              padding: 21,
              color: '#000',
              font: { family: FONT, size: 37 },
              callback: (v: any) => {
                const f = Number(v);
                return Number.isInteger(f) ? '' : STATIONS[n - 1 - Math.floor(f)];
              },
            },
            grid: {
              color: (c: any) => (c.tick && Number.isInteger(c.tick.value) ? '#000' : 'rgba(0,0,0,0)'),
              lineWidth: 2,
              drawTicks: false,
            },
            border: { display: true, color: '#000', width: 2 },
          },
        },
      },
      plugins: [framePlugin],
    });

    return () => chart.destroy();
  }, []);

  return (
    <div style={{ position: 'absolute', left: 0, top: 0, width: W, height: H, background: '#fff' }}>
      <canvas ref={ref} width={W} height={H} style={{ display: 'block' }} />
    </div>
  );
}
